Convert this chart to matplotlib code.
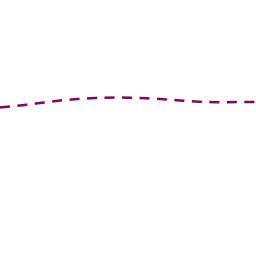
import matplotlib
matplotlib.use('Agg')
from matplotlib import pyplot as plt

# values (pixel-like coordinates, y grows downward)
xs = [0, 20, 40, 60, 80, 100, 120, 140, 160, 180, 200, 220, 240, 256]
ys = [107.5, 105.5, 103.0, 100.5, 98.8, 97.8, 97.5, 98.0, 99.0, 100.5, 101.8, 102.3, 102.0, 102.0]

fig = plt.figure(figsize=(2.56, 2.56), dpi=100)
ax = fig.add_axes([0, 0, 1, 1])
ax.plot(xs, ys, color='#800066', lw=1.8, linestyle=(0, (4, 3)))
ax.set_xlim(0, 256)
ax.set_ylim(256, 0)
ax.axis('off')

fig.savefig('out.png', dpi=100, facecolor='white')
